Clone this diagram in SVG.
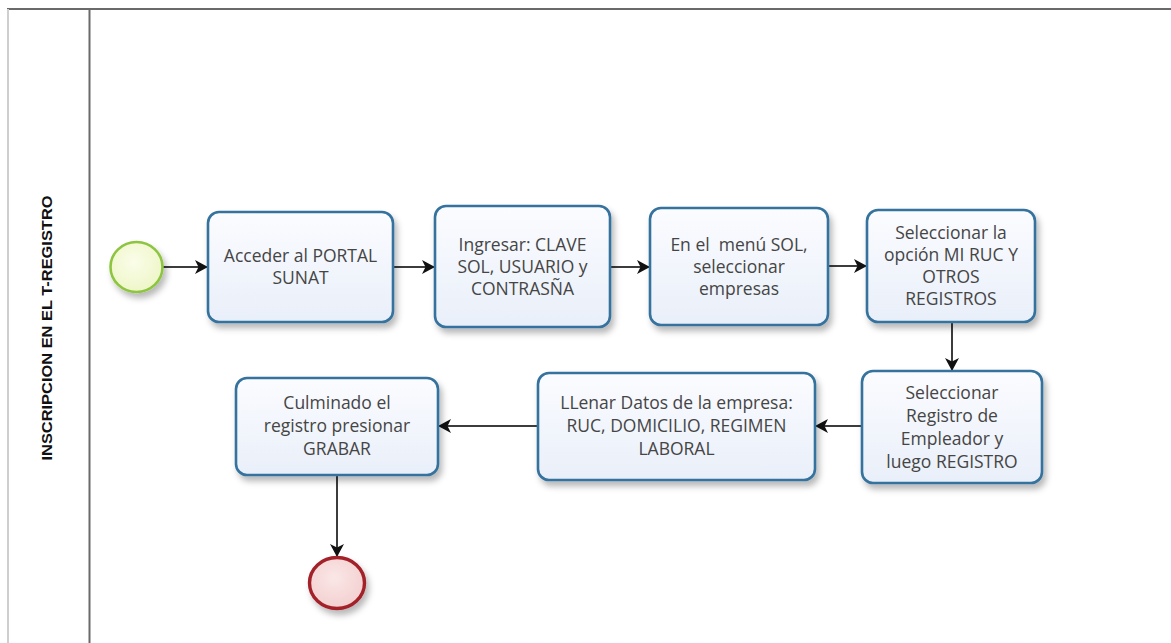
<svg xmlns="http://www.w3.org/2000/svg" width="1171" height="643" viewBox="0 0 1171 643">
<defs>
<linearGradient id="boxFill" x1="0" y1="0" x2="0" y2="1">
<stop offset="0" stop-color="#fbfcff"/>
<stop offset="1" stop-color="#e9eff9"/>
</linearGradient>
<radialGradient id="startFill" cx="0.45" cy="0.4" r="0.6">
<stop offset="0" stop-color="#fbfde9"/>
<stop offset="1" stop-color="#eef6c8"/>
</radialGradient>
<radialGradient id="endFill" cx="0.45" cy="0.4" r="0.6">
<stop offset="0" stop-color="#fbe7e7"/>
<stop offset="1" stop-color="#f3d0d0"/>
</radialGradient>
<filter id="shadow" x="-10%" y="-10%" width="130%" height="140%">
<feDropShadow dx="3" dy="5" stdDeviation="3" flood-color="#000" flood-opacity="0.28"/>
</filter>
<marker id="arrow" markerUnits="userSpaceOnUse" markerWidth="16" markerHeight="14" refX="13" refY="7" orient="auto">
<path d="M0,0 L13,7 L0,14 L3.5,7 Z" fill="#111"/>
</marker>
</defs>
<style>
.task{fill:url(#boxFill);stroke:#35729d;stroke-width:2.6;filter:url(#shadow)}
.lbl{font-family:"Open Sans","Noto Sans",sans-serif;font-size:17.5px;fill:#454545;text-anchor:middle}
.conn{fill:none;stroke:#3c3c3c;stroke-width:2;marker-end:url(#arrow)}
.lane{font-family:"Liberation Sans",Arial,sans-serif;font-weight:bold;font-size:14px;fill:#111;text-anchor:middle}
</style>
<rect x="0" y="0" width="1171" height="643" fill="#ffffff"/>
<g id="lane">
<line x1="7" y1="9" x2="1171" y2="9" stroke="#6a6a6a" stroke-width="2"/>
<line x1="8" y1="9" x2="8" y2="643" stroke="#cfcfcf" stroke-width="2"/>
<line x1="89.5" y1="9" x2="89.5" y2="643" stroke="#6a6a6a" stroke-width="2"/>
<text class="lane" transform="translate(52,328) rotate(-90)" textLength="265" lengthAdjust="spacingAndGlyphs">INSCRIPCION EN EL T-REGISTRO</text>
</g>
<g id="connectors">
<path class="conn" d="M163,267 H208"/>
<path class="conn" d="M393,267 H435"/>
<path class="conn" d="M610,267 H650"/>
<path class="conn" d="M828,266 H867"/>
<path class="conn" d="M952,322 V371"/>
<path class="conn" d="M862,426 H815"/>
<path class="conn" d="M538,426 H438"/>
<path class="conn" d="M337,475 V557"/>
</g>
<g id="start">
<ellipse cx="136.5" cy="267" rx="26" ry="25" fill="url(#startFill)" stroke="#8dc540" stroke-width="2.6" filter="url(#shadow)"/>
</g>
<g id="task1">
<rect class="task" x="208" y="212" width="185" height="110" rx="11"/>
<text class="lbl" x="300.5" y="262">Acceder al PORTAL</text>
<text class="lbl" x="300.5" y="284">SUNAT</text>
</g>
<g id="task2">
<rect class="task" x="435" y="206" width="175" height="121" rx="11"/>
<text class="lbl" x="522.5" y="250.5">Ingresar: CLAVE</text>
<text class="lbl" x="522.5" y="272.5">SOL, USUARIO y</text>
<text class="lbl" x="522.5" y="294.5">CONTRASÑA</text>
</g>
<g id="task3">
<rect class="task" x="650" y="208" width="178" height="117" rx="11"/>
<text class="lbl" x="739" y="250.5" xml:space="preserve">En el  menú SOL,</text>
<text class="lbl" x="739" y="272.5">seleccionar</text>
<text class="lbl" x="739" y="294.5">empresas</text>
</g>
<g id="task4">
<rect class="task" x="867" y="210" width="168" height="112" rx="11"/>
<text class="lbl" x="951" y="239">Seleccionar la</text>
<text class="lbl" x="951" y="261">opción MI RUC Y</text>
<text class="lbl" x="951" y="283">OTROS</text>
<text class="lbl" x="951" y="305">REGISTROS</text>
</g>
<g id="task5">
<rect class="task" x="862" y="371" width="180" height="112" rx="11"/>
<text class="lbl" x="952" y="398.5">Seleccionar</text>
<text class="lbl" x="952" y="421.5">Registro de</text>
<text class="lbl" x="952" y="444.5">Empleador y</text>
<text class="lbl" x="952" y="467.5">luego REGISTRO</text>
</g>
<g id="task6">
<rect class="task" x="538" y="373" width="277" height="107" rx="11"/>
<text class="lbl" x="676.5" y="409">LLenar Datos de la empresa:</text>
<text class="lbl" x="676.5" y="432">RUC, DOMICILIO, REGIMEN</text>
<text class="lbl" x="676.5" y="455">LABORAL</text>
</g>
<g id="task7">
<rect class="task" x="236" y="378" width="202" height="97" rx="11"/>
<text class="lbl" x="337" y="409">Culminado el</text>
<text class="lbl" x="337" y="432">registro presionar</text>
<text class="lbl" x="337" y="455">GRABAR</text>
</g>
<g id="end">
<ellipse cx="337" cy="583" rx="27.5" ry="25.5" fill="url(#endFill)" stroke="#a3202a" stroke-width="3.4" filter="url(#shadow)"/>
</g>
</svg>
